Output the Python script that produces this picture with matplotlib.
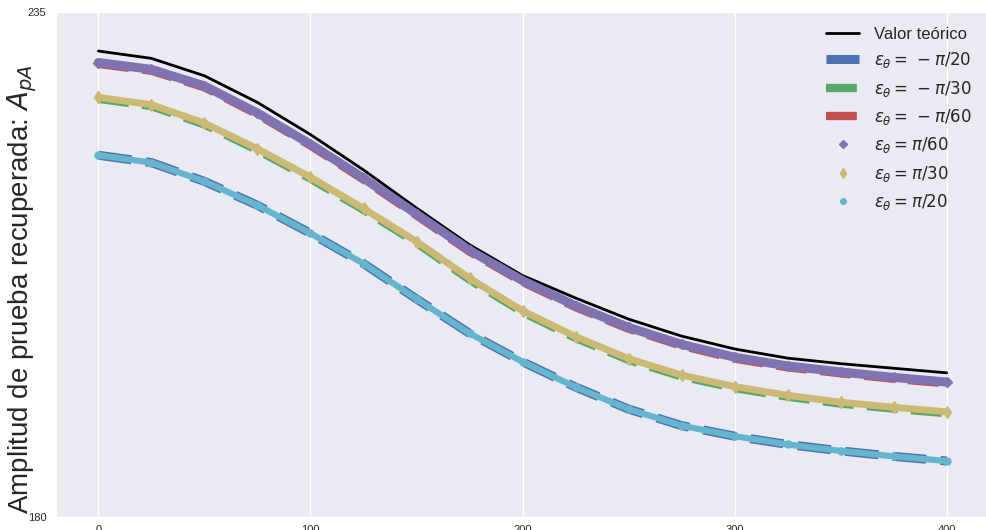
import numpy as np
import matplotlib
matplotlib.use('Agg')
import matplotlib.pyplot as plt
import seaborn as sns

# valores
x = [0, 25, 50, 75, 100, 125, 150, 175, 200, 225, 250, 275, 300, 325, 350, 375, 400]
teorico = [230.75, 229.95, 228.05, 225.15, 221.65, 217.8, 213.65, 209.65, 206.3, 203.85,
           201.55, 199.7, 198.3, 197.3, 196.7, 196.2, 195.7]
neg20 = [219.4, 218.6, 216.55, 213.95, 210.9, 207.6, 203.75, 200.0, 196.9, 194.15,
         191.75, 189.95, 188.8, 187.9, 187.2, 186.6, 186.1]
neg30 = [225.55, 224.75, 222.75, 219.95, 216.85, 213.45, 209.85, 205.85, 202.3, 199.5,
         197.1, 195.3, 194.05, 193.1, 192.35, 191.8, 191.3]
neg60 = [229.35, 228.6, 226.8, 223.85, 220.45, 216.75, 212.85, 208.9, 205.6, 202.85,
         200.5, 198.65, 197.25, 196.3, 195.65, 195.05, 194.55]
pos60 = [229.5, 228.75, 226.95, 224.0, 220.6, 216.9, 213.0, 209.05, 205.75, 203.0,
         200.65, 198.8, 197.4, 196.45, 195.8, 195.2, 194.7]
pos30 = [225.7, 224.9, 222.9, 220.1, 217.0, 213.6, 210.0, 206.0, 202.45, 199.65,
         197.25, 195.45, 194.2, 193.25, 192.5, 191.95, 191.45]
pos20 = [219.4, 218.6, 216.55, 213.95, 210.9, 207.6, 203.75, 200.0, 196.9, 194.15,
         191.75, 189.95, 188.8, 187.9, 187.2, 186.6, 186.1]

sns.set_style('darkgrid')
plt.rcParams['font.family'] = ['Liberation Sans', 'DejaVu Sans']
plt.rcParams['mathtext.fontset'] = 'dejavusans'

azul, verde, rojo = '#4C72B0', '#55A868', '#C44E52'
morado, amarillo, cian = '#8172B2', '#CCB974', '#64B5CD'

fig = plt.figure(figsize=(9.87, 5.30), dpi=100)
ax = fig.add_axes([56 / 987, 1 - 517 / 530, 1 - 56 / 987, 505 / 530])

ax.plot(x, teorico, 'k-', lw=2, label=u'Valor teórico')
ax.plot(x, neg20, '--', color=azul, lw=6.5, label=r'$\varepsilon_\theta =\, -\pi/20$')
ax.plot(x, neg30, '--', color=verde, lw=6, label=r'$\varepsilon_\theta =\, -\pi/30$')
ax.plot(x, neg60, '--', color=rojo, lw=6, label=r'$\varepsilon_\theta =\, -\pi/60$')

# bandas de marcadores
ax.plot(x, pos60, '-', color=morado, lw=6.5, solid_capstyle='round')
ax.plot(x, pos60, 'D', color=morado, ms=5, label=r'$\varepsilon_\theta = \pi/60$')
ax.plot(x, pos30, '-', color=amarillo, lw=5, solid_capstyle='round')
ax.plot(x, pos30, 'd', color=amarillo, ms=6, label=r'$\varepsilon_\theta = \pi/30$')
ax.plot(x, pos20, '-', color=cian, lw=4.5, solid_capstyle='round')
ax.plot(x, pos20, 'o', color=cian, ms=5, label=r'$\varepsilon_\theta = \pi/20$')

ax.set_xlim(-20, 419)
ax.set_ylim(180, 235)
ax.set_xticks([0, 100, 200, 300, 400])
ax.set_yticks([180, 235])
ax.tick_params(labelsize=8)
ax.tick_params(axis='x', pad=2)
ax.set_ylabel(u'Amplitud de prueba recuperada: $A_{pA}$', fontsize=20)
ax.yaxis.set_label_coords(-0.018, 0.45)

ax.legend(loc='upper right', fontsize=12, markerscale=0.8, frameon=False,
          handletextpad=0.9)

fig.savefig('out.png', dpi=100)
